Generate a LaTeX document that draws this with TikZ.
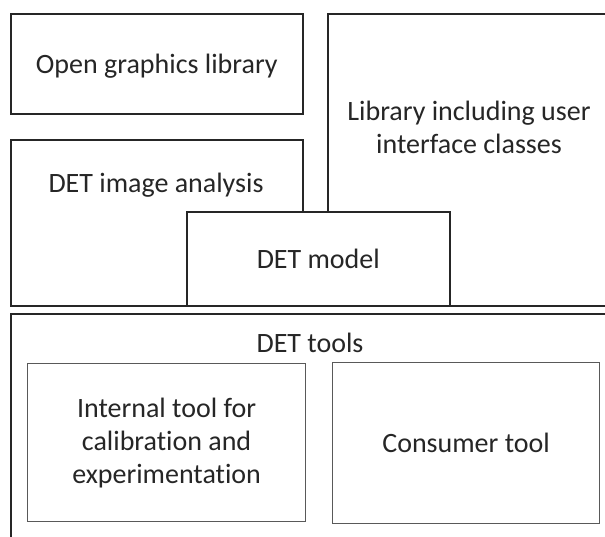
\documentclass[tikz,border=0pt]{standalone}
\usepackage{fontspec}
\setmainfont[Ligatures=NoCommon]{Carlito}
\begin{document}
\begin{tikzpicture}[x=1pt,y=-1pt,
  outer/.style={draw=black!85,line width=1.6pt,fill=white,inner sep=0pt,anchor=north west},
  innerbox/.style={draw=black!65,line width=1.2pt,fill=white,inner sep=0pt,anchor=north west},
  lbl/.style={font=\fontsize{28}{33}\selectfont,text=black!85,align=center,inner sep=0pt}]
\useasboundingbox (0,0) rectangle (605,537);
\clip (0,0) rectangle (605,537);
% top row
\node[outer,minimum width=292pt,minimum height=100pt] (ogl) at (10,13) {};
\node[outer,minimum width=300pt,minimum height=292pt] (uilib) at (327,13) {};
\node[outer,minimum width=292pt,minimum height=166pt] (imgan) at (10,139) {};
\node[outer,minimum width=263pt,minimum height=94pt] (model) at (186,211) {};
% tools layer
\node[outer,minimum width=620pt,minimum height=260pt] (tools) at (10,313) {};
\node[innerbox,minimum width=278pt,minimum height=158pt] (internal) at (27,363) {};
\node[innerbox,minimum width=267pt,minimum height=161pt] (consumer) at (332,362) {};
% labels
\node[lbl] (toglL) at ([yshift=-2pt]ogl.center) {Open graphics library};
\node[lbl] (tuilib) at (469,127) {Library including user\\interface classes};
\node[lbl] (timgan) at (156,185) {DET image analysis};
\node[lbl] (tmodel) at (model.center) {DET model};
\node[lbl] (ttools) at (310,343) {DET tools};
\node[lbl] (tinternal) at (internal.center) {Internal tool for\\calibration and\\experimentation};
\node[lbl] (tconsumer) at (consumer.center) {Consumer tool};
\end{tikzpicture}
\end{document}
